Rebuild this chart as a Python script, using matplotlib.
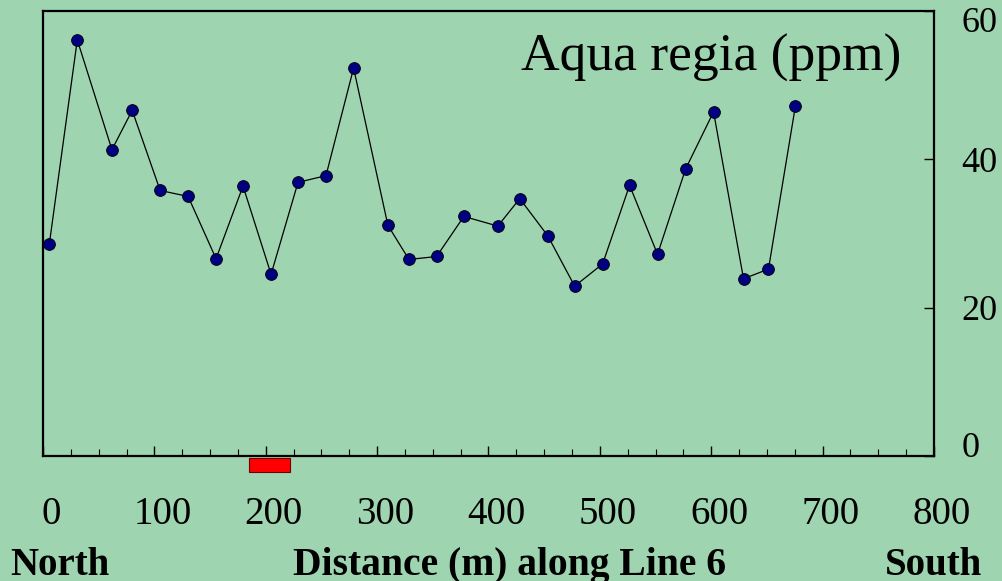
import matplotlib
matplotlib.use("Agg")
import matplotlib.pyplot as plt
import matplotlib.transforms as mtransforms
from matplotlib.patches import Rectangle
from matplotlib.ticker import MultipleLocator

# Aqua regia assay results along the survey line
distance_m = [5.7, 30.8, 61.9, 80.1, 105.2, 130.3, 155.4, 179.6, 204.8, 229.0,
              254.1, 278.9, 309.7, 328.6, 353.4, 377.9, 408.4, 428.1, 453.2, 477.4,
              502.5, 526.7, 551.8, 577.0, 602.1, 629.0, 651.4, 675.6]
aqua_regia_ppm = [28.6, 56.1, 41.3, 46.6, 35.8, 35.0, 26.6, 36.4, 24.5, 36.9,
                  37.8, 52.3, 31.1, 26.5, 26.9, 32.3, 31.0, 34.7, 29.7, 22.9,
                  25.9, 36.5, 27.2, 38.7, 46.4, 23.9, 25.2, 47.2]

x_ticks = [0, 100, 200, 300, 400, 500, 600, 700, 800]
y_ticks = [0, 20, 40, 60]
zone_start, zone_end = 185, 222  # highlighted interval below the axis

bg = "#9ed4b0"
serif = ["Liberation Serif", "DejaVu Serif"]

fig = plt.figure(figsize=(10.02, 5.81), dpi=100, facecolor=bg)
ax = fig.add_axes([0.0429, 0.2151, 0.8892, 0.766], facecolor=bg)

ax.plot(distance_m, aqua_regia_ppm, color="black", lw=0.9,
        marker="o", markersize=8.5, markerfacecolor="#000080",
        markeredgecolor="black", markeredgewidth=0.6)

ax.set_xlim(0, 800)
ax.set_ylim(0, 60)

for side in ["left", "right", "top", "bottom"]:
    ax.spines[side].set_linewidth(1.6)

ax.set_xticks(x_ticks)
ax.xaxis.set_minor_locator(MultipleLocator(25))
ax.set_xticklabels([str(v) for v in x_ticks], fontsize=28, family=serif)
ax.tick_params(axis="x", which="major", direction="in", length=7, width=1.0, pad=29)
ax.tick_params(axis="x", which="minor", direction="in", length=5, width=0.8)

ax.yaxis.tick_right()
ax.set_yticks(y_ticks)
ax.set_yticklabels([str(v) for v in y_ticks], fontsize=26, family=serif)
ax.tick_params(axis="y", which="major", direction="in", length=7, width=1.0, pad=20)

# nudge tick labels the way the original layout sits
shift_x = mtransforms.ScaledTranslation(8 / 100, 0, fig.dpi_scale_trans)
for lab in ax.get_xticklabels():
    lab.set_transform(lab.get_transform() + shift_x)
ylabs = ax.get_yticklabels()
ylabs[0].set_transform(ylabs[0].get_transform() +
                       mtransforms.ScaledTranslation(0, 12 / 100, fig.dpi_scale_trans))
ylabs[-1].set_transform(ylabs[-1].get_transform() +
                        mtransforms.ScaledTranslation(0, -9 / 100, fig.dpi_scale_trans))

ax.text(0.963, 0.865, "Aqua regia (ppm)", transform=ax.transAxes,
        ha="right", va="baseline", fontsize=38.5, family=serif)

# red bar just under the axis
trans = mtransforms.blended_transform_factory(ax.transData, ax.transAxes)
ax.add_patch(Rectangle((zone_start, -0.036), zone_end - zone_start, 0.032,
                       transform=trans, clip_on=False,
                       facecolor="red", edgecolor="#700000", lw=0.8))

fig.text(10 / 1002, 1 - 575 / 581, "North", fontsize=28, fontweight="bold",
         family=serif, ha="left", va="baseline")
fig.text(510 / 1002, 1 - 575 / 581, "Distance (m) along Line 6", fontsize=28.5,
         fontweight="bold", family=serif, ha="center", va="baseline")
fig.text(982 / 1002, 1 - 575 / 581, "South", fontsize=28, fontweight="bold",
         family=serif, ha="right", va="baseline")

fig.savefig("out.png", dpi=100, facecolor=bg)
